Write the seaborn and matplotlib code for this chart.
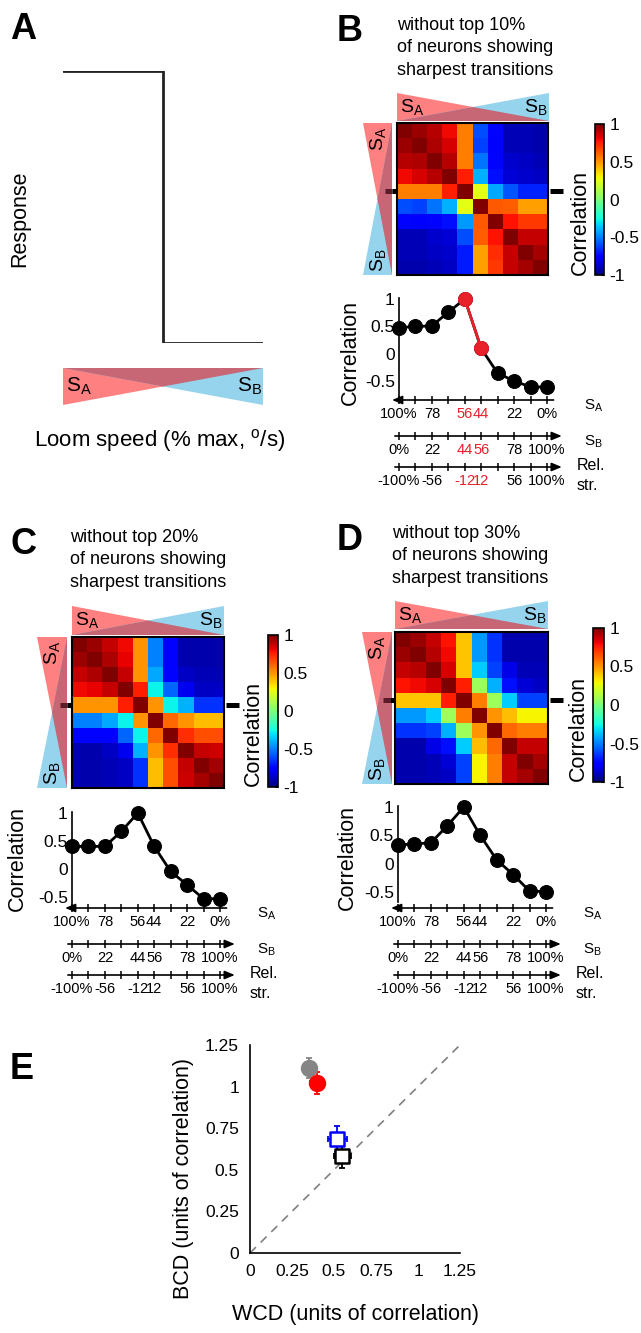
import numpy as np
import pandas as pd
import matplotlib
matplotlib.use('Agg')
import matplotlib.pyplot as plt
from matplotlib.patches import Polygon
import seaborn as sns

# ---------------- data ----------------
# Panel A: schematic step response
a_speed = [0, 50, 50, 100]
a_response = [1, 1, 0, 0]

# Panels B-D: correlation matrices (10 x 10)
b_matrix = [
    [1.00, 0.95, 0.90, 0.80, 0.55, -0.60, -0.75, -0.90, -0.90, -0.92],
    [0.95, 1.00, 0.92, 0.85, 0.55, -0.62, -0.78, -0.90, -0.90, -0.92],
    [0.90, 0.92, 1.00, 0.90, 0.55, -0.52, -0.75, -0.86, -0.88, -0.90],
    [0.80, 0.85, 0.90, 1.00, 0.75, -0.40, -0.72, -0.85, -0.86, -0.88],
    [0.55, 0.55, 0.55, 0.75, 1.00, 0.25, -0.42, -0.58, -0.68, -0.68],
    [-0.60, -0.62, -0.52, -0.40, 0.25, 1.00, 0.63, 0.62, 0.48, 0.48],
    [-0.75, -0.78, -0.75, -0.72, -0.45, 0.63, 1.00, 0.78, 0.70, 0.70],
    [-0.90, -0.90, -0.86, -0.85, -0.60, 0.62, 0.78, 1.00, 0.88, 0.88],
    [-0.90, -0.90, -0.88, -0.86, -0.70, 0.48, 0.72, 0.88, 1.00, 0.93],
    [-0.92, -0.92, -0.90, -0.88, -0.70, 0.48, 0.70, 0.88, 0.93, 1.00],
]
c_matrix = [
    [1.00, 0.95, 0.88, 0.80, 0.50, -0.50, -0.75, -0.92, -0.92, -0.92],
    [0.95, 1.00, 0.92, 0.82, 0.50, -0.50, -0.75, -0.92, -0.92, -0.92],
    [0.88, 0.92, 1.00, 0.88, 0.50, -0.42, -0.75, -0.88, -0.90, -0.90],
    [0.80, 0.82, 0.88, 1.00, 0.75, -0.27, -0.55, -0.80, -0.88, -0.88],
    [0.50, 0.50, 0.50, 0.75, 1.00, 0.50, -0.27, -0.40, -0.65, -0.65],
    [-0.50, -0.50, -0.42, -0.27, 0.50, 1.00, 0.60, 0.50, 0.42, 0.42],
    [-0.75, -0.75, -0.75, -0.55, -0.27, 0.60, 1.00, 0.72, 0.65, 0.65],
    [-0.92, -0.92, -0.88, -0.80, -0.40, 0.50, 0.72, 1.00, 0.88, 0.86],
    [-0.92, -0.92, -0.90, -0.88, -0.65, 0.42, 0.65, 0.88, 1.00, 0.93],
    [-0.92, -0.92, -0.90, -0.88, -0.65, 0.42, 0.65, 0.86, 0.93, 1.00],
]
d_matrix = [
    [1.00, 0.95, 0.88, 0.78, 0.40, -0.45, -0.65, -0.92, -0.92, -0.92],
    [0.95, 1.00, 0.90, 0.80, 0.40, -0.45, -0.65, -0.92, -0.92, -0.92],
    [0.88, 0.90, 1.00, 0.85, 0.40, -0.35, -0.62, -0.82, -0.90, -0.90],
    [0.78, 0.80, 0.85, 1.00, 0.75, 0.08, -0.40, -0.72, -0.85, -0.88],
    [0.40, 0.40, 0.40, 0.75, 1.00, 0.55, 0.08, -0.35, -0.62, -0.62],
    [-0.45, -0.45, -0.35, 0.08, 0.55, 1.00, 0.50, 0.42, 0.30, 0.30],
    [-0.65, -0.65, -0.62, -0.40, 0.08, 0.50, 1.00, 0.60, 0.55, 0.55],
    [-0.92, -0.92, -0.82, -0.72, -0.35, 0.42, 0.60, 1.00, 0.88, 0.88],
    [-0.92, -0.92, -0.90, -0.85, -0.62, 0.30, 0.55, 0.88, 1.00, 0.93],
    [-0.92, -0.92, -0.90, -0.88, -0.62, 0.30, 0.55, 0.88, 0.93, 1.00],
]

# Panels B-D: correlation of the marked row with every stimulus
b_line = [0.48, 0.50, 0.51, 0.76, 1.00, 0.10, -0.35, -0.49, -0.60, -0.60]
c_line = [0.40, 0.40, 0.40, 0.67, 1.00, 0.40, -0.05, -0.29, -0.54, -0.54]
d_line = [0.33, 0.35, 0.37, 0.67, 1.00, 0.50, 0.07, -0.19, -0.48, -0.49]
marked_row = 4
b_highlight = [4, 5]

sa_labels = ['100%', '', '78', '', '56', '44', '', '22', '', '0%']
sb_labels = ['0%', '', '22', '', '44', '56', '', '78', '', '100%']
rel_labels = ['-100%', '', '-56', '', '-12', '12', '', '56', '', '100%']

corr_ticks = [-1, -0.5, 0, 0.5, 1]
corr_ticklabels = ['-1', '-0.5', '0', '0.5', '1']
line_ticks = [-0.5, 0, 0.5, 1]
line_ticklabels = ['-0.5', '0', '0.5', '1']

# Panel E
e_groups = ['gray', 'red', 'blue', 'black']
e_wcd = [0.35, 0.40, 0.52, 0.55]
e_bcd = [1.11, 1.02, 0.685, 0.583]
e_wcd_err = [0.035, 0.04, 0.055, 0.05]
e_bcd_err = [0.06, 0.065, 0.08, 0.07]
e_colors = ['#858585', '#ff0000', '#0000ff', '#000000']
e_markers = ['o', 'o', 's', 's']
e_filled = [True, True, False, False]
e_ticks = [0, 0.25, 0.5, 0.75, 1, 1.25]
e_ticklabels = ['0', '0.25', '0.5', '0.75', '1', '1.25']

# ---------------- style ----------------
sns.set_theme(style='white')
plt.rcParams['font.family'] = ['Liberation Sans', 'DejaVu Sans']
plt.rcParams['mathtext.fontset'] = 'custom'
plt.rcParams['mathtext.rm'] = 'Liberation Sans'
plt.rcParams['mathtext.it'] = 'Liberation Sans:italic'
plt.rcParams['mathtext.bf'] = 'Liberation Sans:bold'
for key in ('text.color', 'axes.labelcolor', 'xtick.color', 'ytick.color',
            'axes.edgecolor'):
    plt.rcParams[key] = 'black'

RED = '#ff8080'
BLUE = '#96d3ec'
MAUVE = '#c76674'
HRED = '#e8202a'

W, H = 641, 1333
fig = plt.figure(figsize=(W / 100, H / 100), dpi=100)


def rect(x0, y0, x1, y1):
    return [x0 / W, 1 - y1 / H, (x1 - x0) / W, (y1 - y0) / H]


def ftext(x, y, s, **kw):
    fig.text(x / W, 1 - y / H, s, **kw)


SA = r'S$_\mathrm{A}$'
SB = r'S$_\mathrm{B}$'


def tri_bar(box, orient, fs=14):
    ax = fig.add_axes(rect(*box))
    ax.set_xlim(0, 1)
    ax.set_ylim(0, 1)
    ax.axis('off')
    if orient == 'A':
        red = [(0, 1), (0, 0), (1, 1)]
        blue = [(1, 1), (1, 0), (0, 1)]
        ov = [(0, 1), (1, 1), (0.5, 0.5)]
    elif orient == 'top':
        red = [(0, 1), (0, 0), (1, 0)]
        blue = [(1, 1), (1, 0), (0, 0)]
        ov = [(0, 0), (1, 0), (0.5, 0.5)]
    else:
        red = [(0, 1), (1, 1), (1, 0)]
        blue = [(0, 0), (1, 0), (1, 1)]
        ov = [(1, 1), (1, 0), (0.5, 0.5)]
    for pts, col in ((red, RED), (blue, BLUE), (ov, MAUVE)):
        ax.add_patch(Polygon(pts, closed=True, facecolor=col, edgecolor='none'))
    if orient == 'left':
        h = box[3] - box[1]
        ax.text(0.5, 1 - 4 / h, SA, rotation=90, ha='center', va='top', fontsize=fs)
        ax.text(0.5, 3 / h, SB, rotation=90, ha='center', va='bottom', fontsize=fs)
    else:
        w = box[2] - box[0]
        ax.text(3 / w, 0.5, SA, ha='left', va='center', fontsize=fs)
        ax.text(1 - 1 / w, 0.5, SB, ha='right', va='center', fontsize=fs)
    return ax


def heat_panel(mat, heat_box, cbar_box, top_box, left_box):
    tri_bar(top_box, 'top')
    tri_bar(left_box, 'left')
    ax = fig.add_axes(rect(*heat_box))
    cax = fig.add_axes(rect(*cbar_box))
    df = pd.DataFrame(mat)
    sns.heatmap(df, ax=ax, cbar_ax=cax, cmap='jet', vmin=-1, vmax=1,
                xticklabels=False, yticklabels=False,
                cbar_kws={'ticks': corr_ticks})
    for s in ax.spines.values():
        s.set_visible(True)
        s.set_linewidth(1.5)
        s.set_color('black')
    cb = ax.collections[0].colorbar
    cb.outline.set_linewidth(1.2)
    cb.outline.set_edgecolor('black')
    cax.set_yticklabels(corr_ticklabels, fontsize=12.5)
    cax.tick_params(length=2, width=0.8, direction='in', pad=4)
    cax.yaxis.set_label_position('left')
    cax.set_ylabel('Correlation', fontsize=15.5)
    cw = cbar_box[2] - cbar_box[0]
    cax.yaxis.set_label_coords(-4 / cw, 0.35)
    r = marked_row + 0.5
    ax.plot([-0.8, -0.33], [r, r], color='#5a1a28', lw=3.6, clip_on=False,
            solid_capstyle='butt')
    ax.plot([-0.33, 0], [r, r], color='black', lw=3.6, clip_on=False,
            solid_capstyle='butt')
    ax.plot([10.13, 11.0], [r, r], color='black', lw=3.6, clip_on=False,
            solid_capstyle='butt')
    return ax


def line_panel(vals, box, ymin, ymax, label_x, label_y, yarrow, highlight=()):
    x0, y0, x1, y1 = box
    ax = fig.add_axes(rect(*box))
    pos = np.arange(len(vals))
    sns.lineplot(x=pos, y=vals, ax=ax, color='black', lw=2, marker='o',
                 markersize=10, markeredgecolor='black', clip_on=False,
                 estimator=None, sort=False)
    if highlight:
        hx = [pos[i] for i in highlight]
        hy = [vals[i] for i in highlight]
        sns.lineplot(x=hx, y=hy, ax=ax, color=HRED, lw=2, marker='o',
                     markersize=10, markeredgecolor=HRED, clip_on=False,
                     estimator=None, sort=False, zorder=5)
    ax.set_xlim(0, len(vals) - 1)
    ax.set_ylim(ymin, ymax)
    for k in ('top', 'right', 'bottom'):
        ax.spines[k].set_visible(False)
    ax.spines['left'].set_color('black')
    ax.spines['left'].set_linewidth(1.2)
    ax.set_xticks([])
    ax.set_yticks(line_ticks)
    ax.set_yticklabels(line_ticklabels, fontsize=12.5)
    ax.tick_params(axis='y', length=3, direction='in', pad=3, colors='black')
    ax.set_ylabel('Correlation', fontsize=15.5)
    ax.yaxis.set_label_coords(label_x, label_y)

    # stimulus scales below
    top = yarrow - 12
    bot = yarrow + 100
    axs = fig.add_axes(rect(x0, top, x1, bot))
    axs.set_xlim(0, len(vals) - 1)
    axs.set_ylim(bot, top)
    axs.axis('off')
    rows = [(yarrow, sa_labels, True, SA),
            (yarrow + 36, sb_labels, False, SB),
            (yarrow + 67, rel_labels, False, None)]
    for yy, labs, left, name in rows:
        if left:
            axs.annotate('', xy=(-0.42, yy), xytext=(9.4, yy),
                         arrowprops=dict(arrowstyle='-|>,head_length=0.6,head_width=0.25',
                                         lw=1.2, color='black', shrinkA=0, shrinkB=0,
                                         mutation_scale=10),
                         annotation_clip=False)
        else:
            axs.annotate('', xy=(9.9, yy), xytext=(-0.25, yy),
                         arrowprops=dict(arrowstyle='-|>,head_length=0.6,head_width=0.25',
                                         lw=1.2, color='black', shrinkA=0, shrinkB=0,
                                         mutation_scale=10),
                         annotation_clip=False)
        axs.plot(pos, [yy] * len(pos), ls='none', marker='|', ms=6, mew=1.1,
                 color='black', clip_on=False)
        for i, lab in enumerate(labs):
            if lab:
                col = HRED if i in highlight else 'black'
                axs.text(i, yy + 14, lab, ha='center', va='center', fontsize=10.5,
                         color=col, clip_on=False)
        if name:
            axs.text(11.25, yy + 6, name, ha='left', va='center', fontsize=11,
                     clip_on=False)
        else:
            axs.text(10.8, yy - 2, 'Rel.', ha='left', va='center', fontsize=11.5,
                     clip_on=False)
            axs.text(10.8, yy + 19, 'str.', ha='left', va='center', fontsize=11.5,
                     clip_on=False)
    return ax


# ---------------- panel A ----------------
axA = fig.add_axes(rect(63, 71, 263, 343))
sns.lineplot(x=a_speed, y=a_response, ax=axA, color='#222222', lw=2,
             estimator=None, sort=False)
axA.set_xlim(0, 100)
axA.set_ylim(0, 1)
axA.axis('off')
tri_bar((63, 368, 263, 405), 'A', fs=15)
ftext(20, 219, 'Response', rotation=90, ha='center', va='center', fontsize=15.5)
ftext(160, 440, r'Loom speed (% max, $^\mathrm{o}$/s)', ha='center', va='center',
      fontsize=16)

# ---------------- panel B ----------------
heat_panel(b_matrix, (397, 123, 548, 275), (595, 124, 604, 275),
           (397, 93, 549, 121), (363, 123, 392, 275))
line_panel(b_line, (399, 298, 547, 397), -0.782, 1.018, -0.257, 0.45, 400,
           highlight=b_highlight)

# ---------------- panel C ----------------
heat_panel(c_matrix, (72, 637, 224, 788), (268, 635, 278, 787),
           (72, 606, 224, 635), (37, 637, 67, 788))
line_panel(c_line, (72, 812, 220, 905), -0.652, 1.018, -0.30, 0.5, 908)

# ---------------- panel D ----------------
heat_panel(d_matrix, (395, 632, 548, 784), (593, 628, 604, 782),
           (395, 601, 548, 629), (362, 632, 392, 784))
line_panel(d_line, (398, 806, 546, 902), -0.673, 1.018, -0.27, 0.46, 908)

# ---------------- titles and letters ----------------
TITLE_KW = dict(ha='left', va='top', fontsize=13, linespacing=1.42)
ftext(397, 17, 'without top 10%\nof neurons showing\nsharpest transitions', **TITLE_KW)
ftext(70, 529, 'without top 20%\nof neurons showing\nsharpest transitions', **TITLE_KW)
ftext(392, 525, 'without top 30%\nof neurons showing\nsharpest transitions', **TITLE_KW)
for lx, ly, letter in ((10, 12, 'A'), (337, 14, 'B'), (10, 527, 'C'),
                       (337, 523, 'D'), (10, 1052, 'E')):
    ftext(lx, ly, letter, ha='left', va='top', fontsize=26, fontweight='bold')

# ---------------- panel E ----------------
axE = fig.add_axes(rect(250, 1045, 460, 1253))
axE.axline((0, 0), slope=1, color='#808080', ls=(0, (5, 4)), lw=1.2, zorder=1)
for i in range(len(e_groups)):
    axE.errorbar(e_wcd[i], e_bcd[i], xerr=e_wcd_err[i], yerr=e_bcd_err[i],
                 fmt='none', ecolor=e_colors[i], elinewidth=1.3, capsize=2.5,
                 capthick=1.3, zorder=3)
    face = e_colors[i] if e_filled[i] else 'white'
    size = 115 if e_filled[i] else 95
    sns.scatterplot(x=[e_wcd[i]], y=[e_bcd[i]], ax=axE, marker=e_markers[i],
                    s=size, color=face, edgecolor=e_colors[i], linewidth=1.8,
                    zorder=4, legend=False)
axE.set_xlim(0, 1.25)
axE.set_ylim(0, 1.25)
axE.set_xticks(e_ticks)
axE.set_xticklabels(e_ticklabels, fontsize=12.5)
axE.set_yticks(e_ticks)
axE.set_yticklabels(e_ticklabels, fontsize=12.5)
axE.tick_params(length=4, width=1, direction='in', colors='black', pad=8)
for k in ('top', 'right'):
    axE.spines[k].set_visible(False)
for k in ('left', 'bottom'):
    axE.spines[k].set_color('black')
    axE.spines[k].set_linewidth(1.2)
axE.set_xlabel('WCD (units of correlation)', fontsize=15.5)
axE.set_ylabel('BCD (units of correlation)', fontsize=15.5)
axE.xaxis.set_label_coords(0.5, -0.245)
axE.yaxis.set_label_coords(-0.267, 0.36)

fig.savefig('out.png', dpi=100)
